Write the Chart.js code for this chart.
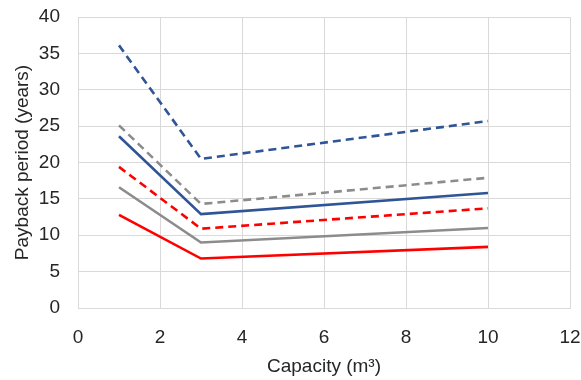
<!DOCTYPE html>
<html>
<head>
<meta charset="utf-8">
<script src="https://cdn.jsdelivr.net/npm/chart.js@4"></script>
<style>
  html, body { margin: 0; padding: 0; background: #fff; }
</style>
</head>
<body>
<canvas id="chart" width="581" height="380"></canvas>
<script>
// capacities (m³)
const capacity = [1, 3, 10]

// payback period (years) for each case
const blueDashed = [36.1, 20.5, 25.7]
const grayDashed = [25.1, 14.3, 17.9]
const blueSolid = [23.6, 12.9, 15.8]
const redDashed = [19.4, 10.9, 13.7]
const graySolid = [16.6, 9.0, 11.0]
const redSolid = [12.8, 6.8, 8.4]

const xTicks = [0, 2, 4, 6, 8, 10, 12]
const yTicks = [0, 5, 10, 15, 20, 25, 30, 35, 40]

const BLUE = '#2f5597'
const RED = '#ff0000'
const GRAY = '#8c8c8c'

// turn a list of y values into x/y points
const toPoints = (ys) => ys.map((y, i) => ({x: capacity[i], y: y}))

const makeSet = (ys, color, dashed) => ({
    data: toPoints(ys),
    borderColor: color,
    backgroundColor: color,
    borderWidth: 2.6,
    borderDash: dashed ? [8, 5] : [],
    pointRadius: 0,
    showLine: true,
    tension: 0
})

const tickFont = {family: 'Liberation Sans', size: 19, lineHeight: 1}

new Chart(document.getElementById('chart'), {
    type: 'scatter',
    data: {
        datasets: [
            makeSet(blueDashed, BLUE, true),
            makeSet(grayDashed, GRAY, true),
            makeSet(blueSolid, BLUE, false),
            makeSet(redDashed, RED, true),
            makeSet(graySolid, GRAY, false),
            makeSet(redSolid, RED, false)
        ]
    },
    options: {
        responsive: false,
        animation: false,
        layout: {padding: 0},
        plugins: {legend: {display: false}, tooltip: {enabled: false}},
        scales: {
            x: {
                type: 'linear',
                min: 0, max: 12,
                afterBuildTicks: (axis) => { axis.ticks = xTicks.map(v => ({value: v})) },
                // tick padding gets added to the side padding, take it back out
                afterFit: (axis) => { axis.height = 72; axis.paddingRight = 11 },
                grid: {color: '#d9d9d9', drawTicks: false},
                border: {color: '#d9d9d9'},
                ticks: {color: '#262626', font: tickFont, padding: 20, autoSkip: false, maxRotation: 0},
                title: {display: true, text: 'Capacity (m³)', color: '#262626', font: tickFont, padding: {top: 0, bottom: 4}}
            },
            y: {
                type: 'linear',
                min: 0, max: 40,
                afterBuildTicks: (axis) => { axis.ticks = yTicks.map(v => ({value: v})) },
                afterFit: (axis) => { axis.width = 78; axis.paddingTop = 17 },
                grid: {color: '#d9d9d9', drawTicks: false},
                border: {color: '#d9d9d9'},
                ticks: {color: '#262626', font: tickFont, padding: 18, autoSkip: false},
                title: {display: true, text: 'Payback period (years)', color: '#262626', font: tickFont, padding: {top: 13, bottom: 0}}
            }
        }
    }
})
</script>
</body>
</html>
